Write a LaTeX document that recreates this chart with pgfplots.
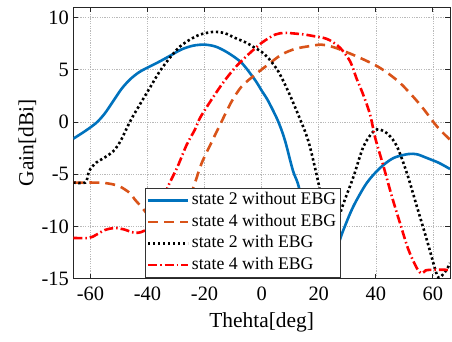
\documentclass[border=0pt]{standalone}
\usepackage{pgfplots}
\pgfplotsset{compat=1.18}
\usepackage{fontspec}
\setmainfont{Liberation Serif}
\definecolor{mblue}{rgb}{0,0.447,0.741}
\definecolor{morange}{rgb}{0.85,0.325,0.098}
\definecolor{axgray}{rgb}{0.15,0.15,0.15}
\begin{document}
\begin{tikzpicture}
\useasboundingbox (-73.3bp,-63.3bp) rectangle (378.7bp,278.7bp);
\begin{axis}[
  scale only axis,
  width=376.7bp, height=271.7bp,
  at={(0,0)}, anchor=south west,
  xmin=-66, xmax=66, ymin=-15, ymax=11,
  xtick={-60,-40,-20,0,20,40,60},
  ytick={-15,-10,-5,0,5,10},
  xticklabels={-60,-40,-20,0,20,40,60},
  yticklabels={-15,-10,-5,0,5,10},
  tick label style={font=\rmfamily\fontsize{20.5}{24}\selectfont},
  xticklabel style={yshift=-5bp},
  yticklabel style={xshift=-1bp},
  label style={font=\rmfamily\fontsize{21.5}{25}\selectfont},
  xlabel={Thehta[deg]}, ylabel={Gain[dBi]},
  xlabel style={at={(axis description cs:0.5,-0.16)}, anchor=center},
  ylabel style={at={(axis description cs:-0.122,0.5)}, anchor=center, rotate=0},
  tick align=inside, major tick length=5bp,
  axis line style={axgray, line width=0.9bp},
  every tick/.style={axgray, line width=0.8bp},
  grid=major,
  major grid style={gray!55, line width=0.6bp, dash pattern=on 1.2bp off 1.2bp},
  legend cell align=left,
  legend style={at={(0.19,0.004)}, anchor=south west, fill=white, draw=black!80, line width=0.8bp,
    font=\rmfamily\fontsize{17.8}{21}\selectfont, inner sep=1.5bp, row sep=0bp,
    nodes={inner sep=2.5bp, text height=12.5bp, text depth=4bp}},
  legend image code/.code={\draw[#1] (0bp,0bp) -- (40bp,0bp);},
]
\addplot[mblue, line width=2.6bp, smooth] coordinates {
(-66,-1.6) (-62,-0.9) (-58,-0.1) (-55,0.8) (-52,2.0) (-49,3.2) (-46,4.1) (-43,4.75) (-40,5.2) (-36,5.75) (-32,6.35) (-28,6.95) (-24,7.3) (-20,7.4) (-16,7.2) (-11.7,6.6) (-7,5.65) (-2.4,4.05) (0,3.0) (2.3,2.0) (5.8,0.05) (8.2,-1.8) (10.9,-4.6) (12.8,-6.0) (15,-8.5) (18,-11.5) (21,-13.3) (24,-13.2) (26.5,-12) (28.4,-10.5) (32.1,-8.1) (36.8,-5.85) (41.5,-4.4) (46.2,-3.45) (51.4,-3.07) (54.5,-3.1) (57.9,-3.45) (62,-3.9) (66,-4.5)
};
\addlegendentry{state 2 without EBG}
\addplot[morange, line width=2.6bp, dash pattern=on 10bp off 6bp, smooth] coordinates {
(-66,-5.8) (-58,-5.8) (-55.6,-5.82) (-52.5,-5.95) (-49.7,-6.17) (-46.2,-6.8) (-44.5,-7.4) (-41.3,-8.4) (-38,-9.6) (-35,-10.5) (-32,-10.6) (-29,-9.6) (-26,-7.8) (-23.4,-5.85) (-21,-3.93) (-17.3,-1.8) (-14,0.06) (-10.5,1.97) (-7,3.4) (-2.4,4.5) (2.3,5.5) (7,6.45) (11.7,6.99) (16.4,7.24) (20.8,7.4) (24,7.25) (27.5,6.93) (34.5,6.13) (41.5,5.17) (48.5,3.73) (55.5,1.66) (61.4,-0.42) (66,-1.7)
};
\addlegendentry{state 4 without EBG}
\addplot[black, line width=2.6bp, dash pattern=on 2.4bp off 2.6bp, smooth] coordinates {
(-66,-5.8) (-61.8,-5.8) (-60.8,-5.0) (-60,-4.5) (-58,-3.9) (-55,-3.4) (-52,-2.8) (-49.5,-1.85) (-46,0.1) (-42.5,1.75) (-39,3.35) (-35.7,4.85) (-32.2,6.13) (-28.7,7.2) (-25,7.9) (-21.6,8.36) (-17,8.62) (-13,8.5) (-9.4,8.05) (-5.5,7.6) (-2.4,7.1) (0,6.7) (2.3,6.13) (5.8,4.85) (9.3,2.93) (12.8,0.7) (16.4,-1.86) (19.9,-5.85) (22,-8.8) (24,-10.5) (26,-10) (28.4,-8.0) (32.1,-5.3) (35.7,-2.33) (39.2,-0.9) (41.5,-0.74) (44.4,-1.2) (47.4,-2.33) (50.9,-4.9) (54.4,-8.1) (57.9,-11.3) (60.8,-14.1) (62,-14.9) (63.5,-14.6) (64.9,-14.1) (66,-13.5)
};
\addlegendentry{state 2 with EBG}
\addplot[red, line width=2.6bp, dash pattern=on 9bp off 3bp on 1.5bp off 3bp, smooth] coordinates {
(-66,-11.1) (-60.5,-11.1) (-58,-10.8) (-55,-10.35) (-51.5,-10.15) (-48,-10.3) (-45.5,-10.55) (-43.3,-10.6) (-41,-10.4) (-38,-9.7) (-35.5,-8.3) (-33,-6.3) (-29.5,-4.3) (-26.3,-2.2) (-23.4,-0.74) (-21.6,0.38) (-18.7,1.66) (-14,3.57) (-9.4,5.17) (-4.7,6.45) (0,7.57) (4.7,8.36) (8.2,8.52) (12,8.45) (15.2,8.36) (18.5,8.2) (21.6,8.05) (24,7.8) (27.5,7.09) (31,5.8) (33.2,4.2) (35.6,2.6) (38,0.7) (39.8,-1.53) (42.7,-4.25) (45.6,-7.1) (48.5,-9.7) (51.4,-12.2) (54.4,-14) (56.1,-14.5) (57.5,-14.2) (60,-14.15) (66,-14.15)
};
\addlegendentry{state 4 with EBG}
\end{axis}
\end{tikzpicture}
\end{document}
